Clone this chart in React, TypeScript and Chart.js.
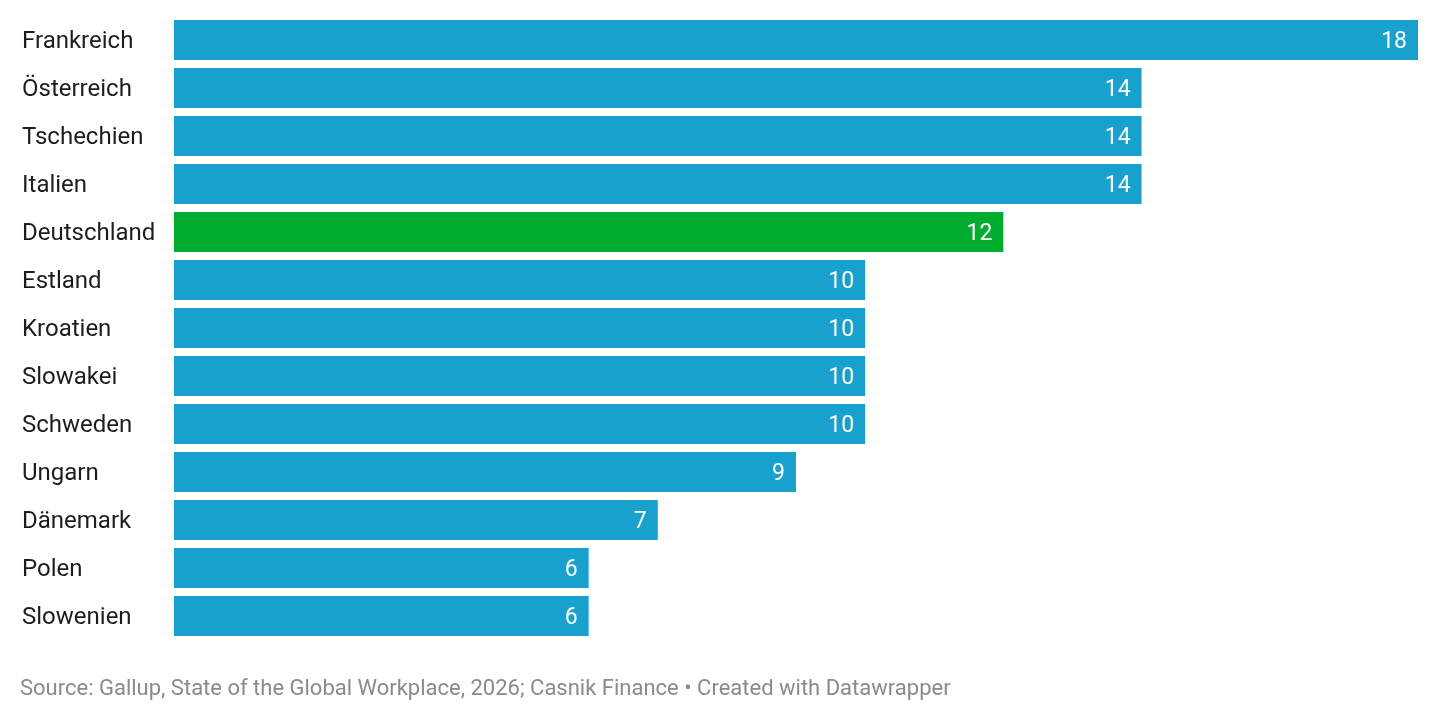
import React, { useEffect, useRef } from "react";
import { Chart, registerables, Plugin } from "chart.js";

Chart.register(...registerables);

const countries = [
  "Frankreich",
  "Österreich",
  "Tschechien",
  "Italien",
  "Deutschland",
  "Estland",
  "Kroatien",
  "Slowakei",
  "Schweden",
  "Ungarn",
  "Dänemark",
  "Polen",
  "Slowenien",
];
const values = [18, 14, 14, 14, 12, 10, 10, 10, 10, 9, 7, 6, 6];
const highlight = "Deutschland";

const BLUE = "#18a1cd";
const GREEN = "#00ad2e";
const FONT = "Roboto";
const SOURCE =
  "Source: Gallup, State of the Global Workplace, 2026; Casnik Finance • Created with Datawrapper";

const valueLabels: Plugin<"bar"> = {
  id: "valueLabels",
  afterDatasetsDraw(chart) {
    const { ctx } = chart;
    const meta = chart.getDatasetMeta(0);
    ctx.save();
    ctx.font = `400 23px ${FONT}`;
    ctx.fillStyle = "#ffffff";
    ctx.textAlign = "right";
    ctx.textBaseline = "middle";
    meta.data.forEach((bar, i) => {
      ctx.fillText(String(values[i]), bar.x - 11, bar.y + 2);
    });
    ctx.restore();
  },
};

const sourceNote: Plugin<"bar"> = {
  id: "sourceNote",
  afterDraw(chart) {
    const { ctx } = chart;
    ctx.save();
    ctx.font = `400 22px ${FONT}`;
    ctx.fillStyle = "#8a8a8a";
    ctx.textAlign = "left";
    ctx.textBaseline = "middle";
    ctx.fillText(SOURCE, 20, 689);
    ctx.restore();
  },
};

export default function App() {
  const canvasRef = useRef<HTMLCanvasElement | null>(null);

  useEffect(() => {
    document.body.style.margin = "0";
    const ctx = canvasRef.current?.getContext("2d");
    if (!ctx) return;
    const chart = new Chart(ctx, {
      type: "bar",
      data: {
        labels: countries,
        datasets: [
          {
            data: values,
            backgroundColor: countries.map((c) => (c === highlight ? GREEN : BLUE)),
            borderWidth: 0,
            barPercentage: 40 / 48,
            categoryPercentage: 1,
          },
        ],
      },
      options: {
        indexAxis: "y",
        animation: false,
        responsive: true,
        maintainAspectRatio: false,
        layout: { padding: { left: 22, right: 22, top: 16, bottom: 82 } },
        plugins: {
          legend: { display: false },
          tooltip: { enabled: false },
        },
        scales: {
          x: { display: false, min: 0, max: 18 },
          y: {
            grid: { display: false },
            border: { display: false },
            afterFit(scale) {
              scale.width = 152;
            },
            ticks: {
              crossAlign: "far",
              color: "#1d1d1d",
              font: { family: FONT, size: 24 },
              padding: 0,
              labelOffset: 2,
            },
          },
        },
      },
      plugins: [valueLabels, sourceNote],
    });
    return () => chart.destroy();
  }, []);

  return (
    <div style={{ position: "fixed", left: 0, top: 0, width: 1440, height: 722 }}>
      <canvas ref={canvasRef} />
    </div>
  );
}
